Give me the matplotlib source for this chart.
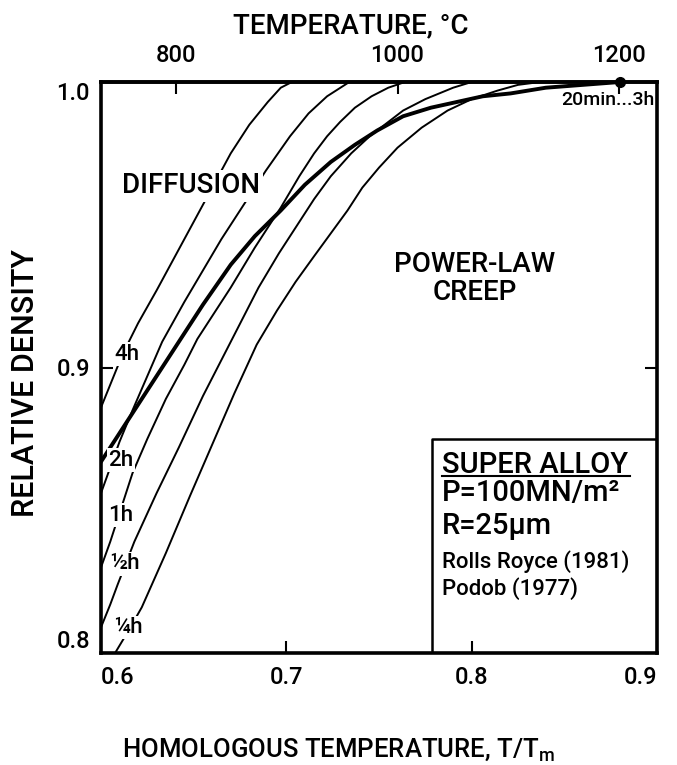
import matplotlib
matplotlib.use("Agg")
import matplotlib.pyplot as plt

plt.rcParams["font.family"] = ["Roboto", "DejaVu Sans"]
plt.rcParams["font.weight"] = "medium"
plt.rcParams["mathtext.fontset"] = "custom"
plt.rcParams["mathtext.rm"] = "Roboto:medium"
plt.rcParams["mathtext.default"] = "regular"

# Melting point used for the homologous / Celsius conversion
TM_KELVIN = 1675.0

# Diffusion-controlled isochrones (homologous temperature, relative density)
h_4h = [0.600, 0.605, 0.610, 0.615, 0.620, 0.630, 0.640, 0.650, 0.660, 0.670,
        0.680, 0.690, 0.697, 0.703]
rho_4h = [0.886, 0.894, 0.902, 0.909, 0.9155, 0.927, 0.939, 0.951, 0.963, 0.975,
          0.985, 0.993, 0.998, 1.000]

h_2h = [0.600, 0.605, 0.610, 0.617, 0.625, 0.633, 0.645, 0.655, 0.665, 0.678,
        0.689, 0.702, 0.712, 0.722, 0.734]
rho_2h = [0.856, 0.865, 0.874, 0.885, 0.897, 0.909, 0.923, 0.934, 0.945, 0.958,
          0.969, 0.981, 0.989, 0.995, 1.000]

h_1h = [0.600, 0.605, 0.610, 0.617, 0.625, 0.635, 0.645, 0.652, 0.660, 0.670,
        0.683, 0.697, 0.707, 0.715, 0.722, 0.729, 0.737, 0.746, 0.755, 0.764]
rho_1h = [0.830, 0.839, 0.849, 0.863, 0.875, 0.889, 0.901, 0.910, 0.918, 0.928,
          0.942, 0.956, 0.967, 0.975, 0.981, 0.986, 0.991, 0.995, 0.998, 1.000]

h_half = [0.600, 0.605, 0.609, 0.618, 0.630, 0.642, 0.655, 0.670, 0.685, 0.696,
          0.706, 0.715, 0.724, 0.735, 0.745, 0.755, 0.763, 0.775, 0.790, 0.800]
rho_half = [0.809, 0.817, 0.824, 0.839, 0.856, 0.872, 0.890, 0.909, 0.928, 0.940,
            0.950, 0.959, 0.967, 0.975, 0.981, 0.986, 0.990, 0.994, 0.998, 1.000]

h_quarter = [0.6076, 0.615, 0.622, 0.635, 0.648, 0.660, 0.672, 0.684, 0.695, 0.705,
             0.715, 0.724, 0.733, 0.741, 0.750, 0.760, 0.773, 0.787, 0.800, 0.814,
             0.825, 0.837]
rho_quarter = [0.800, 0.808, 0.816, 0.835, 0.855, 0.873, 0.891, 0.908, 0.920, 0.930,
               0.939, 0.947, 0.955, 0.963, 0.970, 0.977, 0.984, 0.990, 0.994, 0.997,
               0.999, 1.000]

# Combined power-law creep + diffusion densification path
h_hip = [0.600, 0.610, 0.620, 0.630, 0.643, 0.655, 0.670, 0.683, 0.697, 0.710,
         0.724, 0.737, 0.749, 0.763, 0.778, 0.792, 0.806, 0.821, 0.840, 0.860, 0.880]
rho_hip = [0.867, 0.877, 0.887, 0.897, 0.910, 0.922, 0.936, 0.946, 0.955, 0.964,
           0.972, 0.978, 0.983, 0.988, 0.991, 0.993, 0.995, 0.996, 0.998, 0.999, 1.000]

isochrones = [
    (h_4h, rho_4h, "4h", 0.6140, 0.9047),
    (h_2h, rho_2h, "2h", 0.6108, 0.8676),
    (h_1h, rho_1h, "1h", 0.6108, 0.8483),
    (h_half, rho_half, "½h", 0.6130, 0.8312),
    (h_quarter, rho_quarter, "¼h", 0.6146, 0.8088),
]

x_ticks = [0.6, 0.7, 0.8, 0.9]
x_tick_labels = ["0.6", "0.7", "0.8", "0.9"]
y_ticks = [0.8, 0.9, 1.0]
y_tick_labels = ["0.8", "0.9", "1.0"]
temp_ticks = [800, 1000, 1200]

box_lines = ["P=100MN/m²", "R=25μm"]
box_refs = ["Rolls Royce (1981)", "Podob (1977)"]

fig = plt.figure(figsize=(6.77, 7.65), dpi=100)
ax = fig.add_axes([101 / 677, 1 - 653 / 765, 556 / 677, 571 / 765])
ax.set_xlim(0.6, 0.9)
ax.set_ylim(0.8, 1.0)

for side in ["left", "right", "top", "bottom"]:
    ax.spines[side].set_linewidth(2.6)

for h, rho, lab, lx, ly in isochrones:
    ax.plot(h, rho, color="black", lw=1.4, solid_capstyle="butt", zorder=2)
    ax.text(lx, ly, lab, fontsize=16, ha="center", va="center", zorder=4,
            bbox=dict(boxstyle="square,pad=0.05", fc="white", ec="none"))

ax.plot(h_hip, rho_hip, color="black", lw=2.8, zorder=3)
ax.plot([h_hip[-1]], [rho_hip[-1]], "o", color="black", ms=7, clip_on=False, zorder=5)

ax.set_xticks(x_ticks)
ax.set_xticklabels(x_tick_labels)
ax.set_yticks(y_ticks)
ax.set_yticklabels(y_tick_labels)
ax.tick_params(axis="both", direction="in", length=8.5, width=1.5, labelsize=17)
ax.tick_params(axis="x", pad=9)
ax.tick_params(axis="y", pad=8, right=True)
xl = ax.get_xticklabels()
xl[0].set_ha("left")
xl[-1].set_ha("right")
yl = ax.get_yticklabels()
yl[0].set_va("bottom")
yl[-1].set_va("top")

sec = ax.secondary_xaxis(
    "top",
    functions=(lambda h: h * TM_KELVIN - 273.0, lambda t: (t + 273.0) / TM_KELVIN),
)
sec.set_xticks(temp_ticks)
sec.set_xticklabels([str(t) for t in temp_ticks])
sec.tick_params(direction="in", length=8.5, width=1.5, labelsize=17, pad=11)
sec.spines["top"].set_linewidth(2.6)

# Region labels
ax.text(0.6486, 0.9636, "DIFFUSION", fontsize=20, ha="center", va="center", zorder=4,
        bbox=dict(boxstyle="square,pad=0.1", fc="white", ec="none"))
ax.text(0.8018, 0.9312, "POWER-LAW\nCREEP", fontsize=20, ha="center", va="center",
        multialignment="center", linespacing=1.05)
ax.text(0.8985, 0.9937, "20min...3h", fontsize=14, ha="right", va="center")

# Conditions box in the lower-right corner
box_x, box_y = 0.7786, 0.875
ax.plot([box_x, box_x, 0.9], [0.8, box_y, box_y], color="black", lw=1.8, zorder=3)
tx = 0.7840
ax.text(tx, 0.8658, "SUPER ALLOY", fontsize=21, ha="left", va="center")
ax.plot([tx, 0.8855], [0.8620, 0.8620], color="black", lw=1.5)
ax.text(tx, 0.8560, box_lines[0], fontsize=21, ha="left", va="center")
ax.text(tx, 0.8445, box_lines[1], fontsize=21, ha="left", va="center")
ax.text(tx, 0.8319, box_refs[0], fontsize=16, ha="left", va="center")
ax.text(tx, 0.8224, box_refs[1], fontsize=16, ha="left", va="center")

fig.text(351 / 677, 1 - 33 / 765, "TEMPERATURE, °C", fontsize=20, ha="center", va="baseline")
fig.text(122 / 677, 1 - 757 / 765, "HOMOLOGOUS TEMPERATURE, T/T$_m$", fontsize=18.5,
         ha="left", va="baseline")
fig.text(26 / 677, 1 - 383 / 765, "RELATIVE DENSITY", fontsize=22, rotation=90,
         ha="center", va="center")

fig.savefig("out.png", dpi=100)
